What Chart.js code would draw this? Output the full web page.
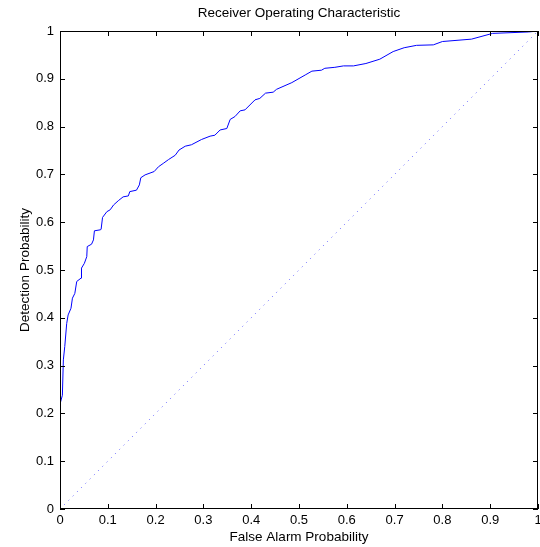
<!DOCTYPE html>
<html>
<head>
<meta charset="utf-8">
<script src="https://cdn.jsdelivr.net/npm/chart.js@4/dist/chart.umd.min.js"></script>
<style>
  html, body { margin: 0; padding: 0; background: #fff; }
  #wrap { width: 540px; height: 547px; }
</style>
</head>
<body>
<div id="wrap"><canvas id="roc" width="540" height="547"></canvas></div>
<script>
// ROC curve
const falseAlarm = [0, 0, 0, 0.002, 0.005, 0.007, 0.010, 0.014, 0.017, 0.023, 0.026, 0.031, 0.035,
  0.044, 0.045, 0.051, 0.056, 0.057, 0.066, 0.070, 0.072, 0.084, 0.086,
  0.089, 0.098, 0.105, 0.112, 0.122, 0.132, 0.143, 0.146, 0.160, 0.166,
  0.169, 0.178, 0.197, 0.206, 0.216, 0.227, 0.241, 0.249, 0.262, 0.275,
  0.296, 0.314, 0.324, 0.335, 0.349, 0.356, 0.366, 0.377, 0.387, 0.408,
  0.418, 0.430, 0.446, 0.453, 0.485, 0.513, 0.527, 0.547, 0.554, 0.575,
  0.593, 0.614, 0.640, 0.669, 0.697, 0.720, 0.746, 0.781, 0.800, 0.861,
  0.905, 0.98, 1];
const detection = [0, 0.10, 0.186, 0.222, 0.238, 0.312, 0.340, 0.388, 0.406, 0.420, 0.441, 0.451, 0.476,
  0.483, 0.504, 0.514, 0.528, 0.549, 0.554, 0.563, 0.582, 0.584, 0.585,
  0.610, 0.622, 0.626, 0.636, 0.645, 0.653, 0.655, 0.664, 0.667, 0.678,
  0.693, 0.699, 0.706, 0.716, 0.723, 0.731, 0.740, 0.751, 0.759, 0.762,
  0.773, 0.780, 0.782, 0.793, 0.796, 0.815, 0.821, 0.833, 0.835, 0.856,
  0.859, 0.870, 0.872, 0.878, 0.892, 0.908, 0.916, 0.918, 0.922, 0.924,
  0.927, 0.927, 0.932, 0.941, 0.957, 0.965, 0.970, 0.971, 0.978, 0.983,
  0.995, 0.998, 1];
const chanceLine = [0, 1];
const tickValues = [0, 0.1, 0.2, 0.3, 0.4, 0.5, 0.6, 0.7, 0.8, 0.9, 1];

const FONT = '"Liberation Sans", Arial, Helvetica, sans-serif';

const framePlugin = {
  id: 'frame',
  afterDraw(chart) {
    const { ctx, chartArea: a, scales } = chart;
    ctx.save();
    ctx.strokeStyle = '#000';
    ctx.lineWidth = 1;
    ctx.beginPath();
    tickValues.forEach(v => {
      const x = Math.round(scales.x.getPixelForValue(v)) + 0.5;
      const y = Math.round(scales.y.getPixelForValue(v)) + 0.5;
      ctx.moveTo(x, a.bottom); ctx.lineTo(x, a.bottom - 5);
      ctx.moveTo(x, a.top); ctx.lineTo(x, a.top + 5);
      ctx.moveTo(a.left, y); ctx.lineTo(a.left + 5, y);
      ctx.moveTo(a.right, y); ctx.lineTo(a.right - 5, y);
    });
    ctx.stroke();
    ctx.strokeRect(a.left + 0.5, a.top + 0.5, a.right - a.left - 1, a.bottom - a.top - 1);
    // title centred on the plot area
    ctx.fillStyle = '#000';
    ctx.font = '13.5px ' + FONT;
    ctx.textAlign = 'center';
    ctx.textBaseline = 'middle';
    ctx.fillText('Receiver Operating Characteristic', (a.left + a.right) / 2, 13);
    ctx.restore();
  }
};

new Chart(document.getElementById('roc').getContext('2d'), {
  type: 'scatter',
  data: {
    datasets: [
      {
        data: falseAlarm.map((x, i) => ({ x: x, y: detection[i] })),
        showLine: true,
        borderColor: 'rgb(0,0,255)',
        borderWidth: 1,
        pointRadius: 0,
        tension: 0
      },
      {
        data: chanceLine.map(v => ({ x: v, y: v })),
        showLine: true,
        borderColor: 'rgba(60,60,255,0.8)',
        borderWidth: 1,
        borderDash: [1, 5],
        pointRadius: 0
      }
    ]
  },
  options: {
    responsive: false,
    animation: false,
    devicePixelRatio: 1,
    layout: { padding: { top: 31, right: 2, left: 0, bottom: 0 } },
    plugins: { legend: { display: false }, tooltip: { enabled: false } },
    scales: {
      x: {
        type: 'linear', min: 0, max: 1,
        afterBuildTicks(s) { s.ticks = tickValues.map(v => ({ value: v })); },
        afterFit(s) { s.height = 38; s.paddingLeft = 0; s.paddingRight = 0; },
        grid: { display: false, drawTicks: false },
        border: { display: false },
        ticks: { color: '#000', padding: 4, font: { family: FONT, size: 13 }, maxRotation: 0,
          callback: v => String(Math.round(v * 10) / 10) },
        title: { display: true, text: 'False Alarm Probability', color: '#000',
          font: { family: FONT, size: 13.5 }, padding: { top: 0, bottom: 2 } }
      },
      y: {
        type: 'linear', min: 0, max: 1,
        afterBuildTicks(s) { s.ticks = tickValues.map(v => ({ value: v })); },
        afterFit(s) { s.width = 60; s.paddingTop = 0; s.paddingBottom = 0; },
        grid: { display: false, drawTicks: false },
        border: { display: false },
        ticks: { color: '#000', padding: 6, font: { family: FONT, size: 13 },
          callback: v => String(Math.round(v * 10) / 10) },
        title: { display: true, text: 'Detection Probability', color: '#000',
          font: { family: FONT, size: 13.5 }, padding: { top: 17, bottom: 0 } }
      }
    }
  },
  plugins: [framePlugin]
});
</script>
</body>
</html>
